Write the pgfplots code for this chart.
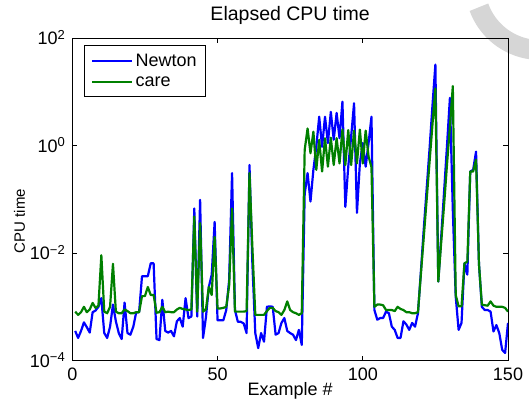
\documentclass[border=0pt]{standalone}
\usepackage{fontspec}
\setmainfont{Liberation Sans}
\usepackage{pgfplots}
\usepackage{pgfplotstable}
\pgfplotsset{compat=1.18}
\definecolor{mblue}{rgb}{0,0,1}
\definecolor{mgreen}{rgb}{0,0.5,0}
\newcommand\tenp[1]{10\raisebox{5.5bp}{\fontsize{13bp}{13bp}\selectfont #1}}
\newcommand\bigf{\fontsize{18bp}{21bp}\selectfont}
\pgfplotstableread{
x y
1 3.55e-4
2 2.63e-4
3 3.55e-4
4 5.13e-4
5 4.17e-4
6 3.31e-4
7 7.94e-4
8 8.51e-4
9 1.0e-3
10 1.45e-3
11 3.24e-4
12 2.63e-4
13 4.27e-4
14 1.10e-3
15 5.37e-4
16 3.24e-4
17 2.51e-4
18 1.20e-3
19 3.24e-4
20 3.02e-4
21 4.27e-4
22 7.94e-4
23 7.94e-4
24 3.72e-3
25 3.72e-3
26 3.72e-3
27 6.46e-3
28 6.46e-3
29 2.51e-4
30 2.40e-4
31 1.35e-3
32 3.55e-4
33 3.31e-4
34 3.55e-4
35 2.82e-4
36 5.37e-4
37 6.17e-4
38 4.27e-4
39 1.45e-3
40 6.17e-4
41 6.61e-4
42 6.76e-2
43 6.61e-4
44 9.77e-2
45 2.63e-4
46 6.31e-4
47 2.34e-3
48 3.98e-3
49 3.80e-2
50 5.62e-4
51 5.62e-4
52 5.62e-4
53 8.71e-4
54 3.16e-3
55 0.309
56 8.71e-4
57 5.25e-4
58 5.25e-4
59 4.90e-4
60 3.24e-4
61 0.437
62 6.31e-3
63 3.24e-4
64 1.70e-4
65 3.24e-4
66 2.24e-4
67 1.0e-3
68 1.02e-3
69 1.0e-3
70 3.02e-4
71 3.24e-4
72 5.01e-4
73 6.17e-4
74 3.55e-4
75 3.24e-4
76 3.02e-4
77 2.40e-4
78 3.72e-4
79 1.95e-4
80 0.126
81 0.309
82 9.12e-2
83 0.355
84 0.955
85 3.47
86 0.955
87 3.47
88 1.12
89 4.27
90 1.29
91 4.07
92 1.38
93 6.61
94 7.24e-2
95 0.407
96 1.48
97 6.17
98 5.62e-2
99 0.468
100 1.12
101 0.407
102 1.12
103 3.47
104 8.71e-4
105 5.75e-4
106 6.17e-4
107 6.17e-4
108 8.13e-4
109 7.59e-4
110 4.27e-4
111 3.72e-4
112 2.63e-4
113 2.63e-4
114 5.37e-4
115 4.68e-4
116 3.72e-4
117 5.01e-4
118 4.27e-4
119 7.59e-4
120 4.47e-3
121 2.82e-2
122 0.158
123 0.891
124 5.62
125 32.4
126 2.95e-3
127 2.0e-2
128 0.141
129 1.0
130 7.76
131 0.063
132 1.55e-3
133 3.72e-4
134 5.01e-4
135 6.46e-3
136 3.98e-3
137 0.331
138 0.355
139 0.776
140 6.31e-3
141 1.0e-3
142 8.71e-4
143 8.71e-4
144 8.13e-4
145 3.47e-4
146 4.57e-4
147 3.24e-4
148 1.58e-4
149 1.38e-4
150 5.01e-4
}\newton
\pgfplotstableread{
x y
1 8.13e-4
2 7.08e-4
3 7.94e-4
4 1.0e-3
5 7.94e-4
6 8.91e-4
7 1.18e-3
8 9.55e-4
9 1.05e-3
10 9.12e-3
11 8.13e-4
12 7.59e-4
13 1.0e-3
14 6.31e-3
15 8.13e-4
16 7.59e-4
17 7.59e-4
18 8.91e-4
19 8.32e-4
20 7.59e-4
21 7.59e-4
22 7.94e-4
23 7.94e-4
24 1.58e-3
25 1.58e-3
26 2.34e-3
27 1.66e-3
28 1.66e-3
29 7.76e-4
30 7.94e-4
31 1.0e-3
32 7.94e-4
33 8.13e-4
34 7.94e-4
35 7.94e-4
36 8.91e-4
37 9.55e-4
38 9.12e-4
39 8.91e-4
40 8.71e-4
41 8.91e-4
42 4.79e-2
43 8.13e-4
44 3.63e-2
45 8.13e-4
46 8.91e-4
47 2.34e-3
48 1.66e-3
49 2.0e-2
50 9.33e-4
51 9.33e-4
52 9.55e-4
53 1.0e-3
54 2.51e-3
55 6.76e-2
56 8.13e-4
57 8.13e-4
58 8.13e-4
59 8.13e-4
60 8.32e-4
61 0.309
62 1.26e-2
63 7.08e-4
64 7.08e-4
65 7.08e-4
66 7.08e-4
67 8.32e-4
68 9.55e-4
69 9.55e-4
70 8.32e-4
71 7.94e-4
72 7.08e-4
73 8.71e-4
74 1.26e-3
75 8.71e-4
76 7.94e-4
77 7.59e-4
78 7.08e-4
79 7.59e-4
80 0.832
81 2.09
82 0.724
83 1.82
84 0.355
85 1.29
86 0.331
87 1.38
88 0.407
89 1.41
90 0.437
91 1.38
92 0.468
93 2.0
94 0.437
95 1.95
96 0.437
97 1.91
98 0.468
99 2.0
100 0.468
101 1.91
102 0.631
103 0.398
104 1.0e-3
105 1.10e-3
106 1.10e-3
107 1.07e-3
108 8.71e-4
109 8.71e-4
110 8.71e-4
111 8.32e-4
112 1.0e-3
113 9.12e-4
114 8.71e-4
115 7.94e-4
116 7.94e-4
117 7.59e-4
118 7.59e-4
119 7.94e-4
120 3.98e-3
121 2.0e-2
122 0.1
123 0.501
124 2.51
125 11.7
126 2.95e-3
127 1.58e-2
128 7.94e-2
129 0.447
130 2.24
131 12.9
132 1.66e-3
133 1.02e-3
134 1.02e-3
135 6.46e-3
136 6.92e-3
137 0.331
138 0.331
139 0.55
140 6.31e-3
141 1.10e-3
142 1.07e-3
143 1.05e-3
144 1.26e-3
145 1.05e-3
146 1.0e-3
147 1.0e-3
148 1.0e-3
149 9.55e-4
150 8.13e-4
}\care
\begin{document}
\begin{tikzpicture}
\path[use as bounding box] (0,0) rectangle (529bp,400bp);
\draw[black!16, line width=20bp] (540bp,415bp) ++(200:65bp) arc[start angle=200, end angle=262, radius=65bp];
\begin{axis}[
  at={(72.3bp,39.5bp)}, anchor=south west, scale only axis,
  width=435.7bp, height=322.2bp,
  xmin=0, xmax=150, ymode=log, ymin=1e-4, ymax=1e2,
  xtick={0,50,100,150}, xticklabels={0,50,100,150},
  ytick={1e-4,1e-2,1,100},
  yticklabels={\tenp{−4},\tenp{−2},\tenp{0},\tenp{2}},
  yminorticks=false, xminorticks=false,
  tick align=inside, major tick length=5bp,
  tick style={black, line width=0.6bp},
  axis line style={line width=0.8bp},
  tick label style={font=\bigf},
  xticklabel style={anchor=base, yshift=-19.5bp, inner sep=0pt},
  yticklabel style={anchor=base east, inner sep=0pt, xshift=-7.3bp, yshift=-6.5bp},
  title={Elapsed CPU time},
  title style={at={(axis description cs:0.5,1)}, anchor=base, yshift=11.6bp, font=\fontsize{19.5bp}{22bp}\selectfont, inner sep=0pt},
  xlabel={Example \#},
  xlabel style={at={(axis description cs:0.5,0)}, anchor=base, yshift=-35bp, font=\bigf, inner sep=0pt},
  ylabel={CPU time},
  ylabel style={at={(axis description cs:-0.1086,0.433)}, anchor=base, inner sep=0pt, font=\fontsize{15bp}{17bp}\selectfont},
  legend style={at={(axis description cs:0.0268,0.979)}, anchor=north west, draw=black, line width=0.8bp, fill=white, font=\bigf, inner xsep=7bp, inner ysep=7bp, row sep=4bp, cells={anchor=west}},
  legend image code/.code={\draw[#1, line width=2.2bp] (0bp,0bp) -- (40bp,0bp);},
]
\addplot[mblue, line width=2.2bp, line join=round] table {\newton};
\addplot[mgreen, line width=2.2bp, line join=round] table {\care};
\legend{Newton, care}
\end{axis}
\end{tikzpicture}
\end{document}
